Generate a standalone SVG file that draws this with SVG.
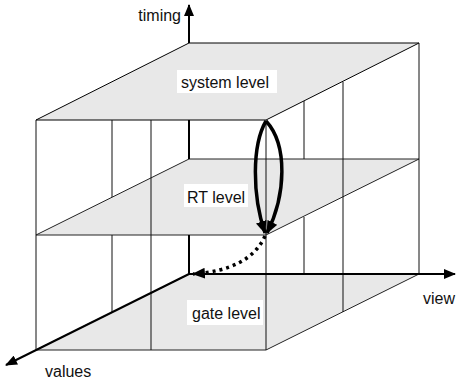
<svg xmlns="http://www.w3.org/2000/svg" width="456" height="383" viewBox="0 0 456 383">
  <defs>
    <marker id="ah" viewBox="0 0 12 10" refX="11" refY="5" markerWidth="12" markerHeight="10" markerUnits="userSpaceOnUse" orient="auto">
      <path d="M0,0 L12,5 L0,10 z" fill="#000"/>
    </marker>
    <marker id="ahs" viewBox="0 0 12 10" refX="11" refY="5" markerWidth="13" markerHeight="11" markerUnits="userSpaceOnUse" orient="auto">
      <path d="M0,0 L12,5 L0,10 z" fill="#000"/>
    </marker>
  </defs>
  <style>
    .plane { fill: #e8e8e8; stroke: #222; stroke-width: 1; }
    .edge { stroke: #111; stroke-width: 1; fill: none; }
    .axis { stroke: #000; stroke-width: 2; fill: none; }
    .lbl { font-family: "Liberation Sans", Arial, sans-serif; font-size: 16px; fill: #111; }
    .bg { fill: #fff; }
    .flow { stroke: #000; stroke-width: 3.5; fill: none; }
  </style>

  <g id="planes">
    <g id="plane-gate">
      <polygon class="plane" points="189,274 419,274 266,350 36,350"/>
    </g>
    <g id="plane-rt">
      <polygon class="plane" points="189,159 419,159 266,235 36,235"/>
    </g>
    <g id="plane-system">
      <polygon class="plane" points="189,43 419,43 266,120 36,120" style="stroke:#000"/>
    </g>
  </g>

  <g id="walls">
    <line class="edge" x1="36" y1="120" x2="36" y2="350"/>
    <line class="edge" x1="112" y1="120" x2="112" y2="197"/>
    <line class="edge" x1="112" y1="235" x2="112" y2="312"/>
    <line class="edge" x1="151" y1="120" x2="151" y2="350"/>
    <line class="edge" x1="266" y1="120" x2="266" y2="350"/>
    <line class="edge" x1="304" y1="101" x2="304" y2="159"/>
    <line class="edge" x1="304" y1="217" x2="304" y2="274"/>
    <line class="edge" x1="343" y1="82" x2="343" y2="312"/>
    <line class="edge" x1="419" y1="43" x2="419" y2="274"/>
  </g>

  <g id="axes">
    <line class="axis" x1="189" y1="120" x2="189" y2="159"/>
    <line class="axis" x1="189" y1="235" x2="189" y2="274"/>
    <line class="axis" x1="189" y1="43" x2="189" y2="5" marker-end="url(#ah)"/>
    <line class="axis" x1="189" y1="274" x2="455" y2="274" marker-end="url(#ah)"/>
    <line class="axis" x1="189" y1="274" x2="6" y2="365" marker-end="url(#ah)"/>
  </g>

  <g id="labels">
    <g id="label-system">
      <rect class="bg" x="177" y="70" width="100" height="23"/>
      <text class="lbl" x="181" y="88">system level</text>
    </g>
    <g id="label-rt">
      <rect class="bg" x="184" y="184" width="64" height="23"/>
      <text class="lbl" x="187" y="203">RT level</text>
    </g>
    <g id="label-gate">
      <rect class="bg" x="187" y="300" width="76" height="25"/>
      <text class="lbl" x="192" y="319">gate level</text>
    </g>
    <text id="label-timing" class="lbl" x="181" y="20.5" text-anchor="end">timing</text>
    <text id="label-view" class="lbl" x="423" y="304">view</text>
    <text id="label-values" class="lbl" x="45" y="377">values</text>
  </g>

  <g id="connectors">
    <path class="flow" d="M266,121 C252,145 252,195 265,233" marker-end="url(#ahs)"/>
    <path class="flow" d="M266,121 C288,145 286,195 267,233" marker-end="url(#ahs)"/>
    <path d="M265,236 Q250,270 193,274" stroke="#000" stroke-width="3.5" fill="none" stroke-dasharray="3,4" marker-end="url(#ahs)"/>
  </g>
</svg>
